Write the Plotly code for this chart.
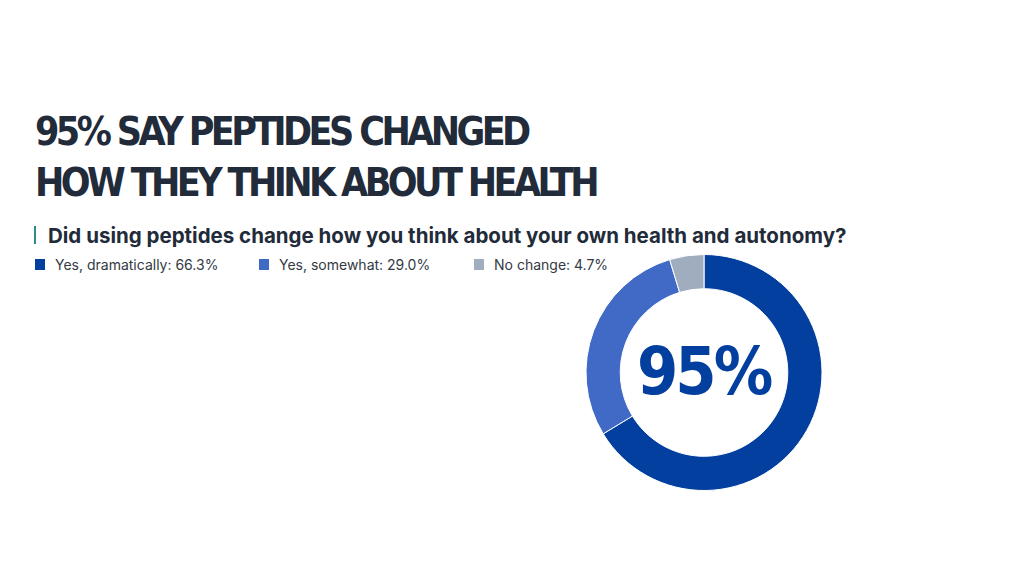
import plotly.graph_objects as go

labels = ["Yes, dramatically", "Yes, somewhat", "No change"]
values = [66.3, 29.0, 4.7]
colors = ["#033F9F", "#4169C6", "#A0ADBF"]
center_text = "95%"
title_lines = ["95% SAY PEPTIDES CHANGED", "HOW THEY THINK ABOUT HEALTH"]
subtitle = "Did using peptides change how you think about your own health and autonomy?"
legend_x_px = [35, 259, 474]

W, H = 1024, 576
def px(x): return x / W
def py(y): return 1 - y / H

COND = "DejaVu Sans Condensed, Roboto Condensed, Liberation Sans Narrow, sans-serif"

fig = go.Figure()
fig.add_trace(go.Pie(
    labels=labels, values=values, sort=False, direction="clockwise", rotation=0,
    hole=0.71, marker=dict(colors=colors, line=dict(color="white", width=1)),
    textinfo="none", hoverinfo="label+percent", showlegend=False,
    domain=dict(x=[px(586), px(822)], y=[py(491), py(254)]),
))

annotations = []
for i, line in enumerate(title_lines):
    annotations.append(dict(
        x=px(33), y=py(132 + i * 50), xref="paper", yref="paper", xanchor="left", yanchor="middle",
        text=f'<span style="letter-spacing:-3.6px">{line}</span>', showarrow=False,
        font=dict(family=COND, size=39, color="#222B3A", weight="bold"),
    ))
annotations.append(dict(
    x=px(46), y=py(235), xref="paper", yref="paper", xanchor="left", yanchor="middle",
    text=subtitle, showarrow=False,
    font=dict(family="Inter", size=20.5, color="#222B3A", weight="bold"),
))
annotations.append(dict(
    x=px(704), y=py(371), xref="paper", yref="paper", xanchor="center", yanchor="middle",
    text=f'<span style="letter-spacing:-3px">{center_text}</span>', showarrow=False,
    font=dict(family=COND, size=66, color="#033F9F", weight="bold"),
))

shapes = [dict(type="line", xref="paper", yref="paper", x0=px(35), x1=px(35), y0=py(226), y1=py(244),
               line=dict(color="#2A8C8C", width=2))]
for lab, val, col, lx in zip(labels, values, colors, legend_x_px):
    shapes.append(dict(type="rect", xref="paper", yref="paper", x0=px(lx), x1=px(lx + 10),
                       y0=py(270), y1=py(259), fillcolor=col, line=dict(width=0)))
    annotations.append(dict(
        x=px(lx + 18), y=py(264.5), xref="paper", yref="paper", xanchor="left", yanchor="middle",
        text=f"{lab}: {val:.1f}%", showarrow=False,
        font=dict(family="Inter", size=14, color="#333A44"),
    ))

fig.update_layout(
    width=W, height=H, margin=dict(l=0, r=0, t=0, b=0),
    paper_bgcolor="white", plot_bgcolor="white",
    annotations=annotations, shapes=shapes,
)
fig.write_html("out.html")
